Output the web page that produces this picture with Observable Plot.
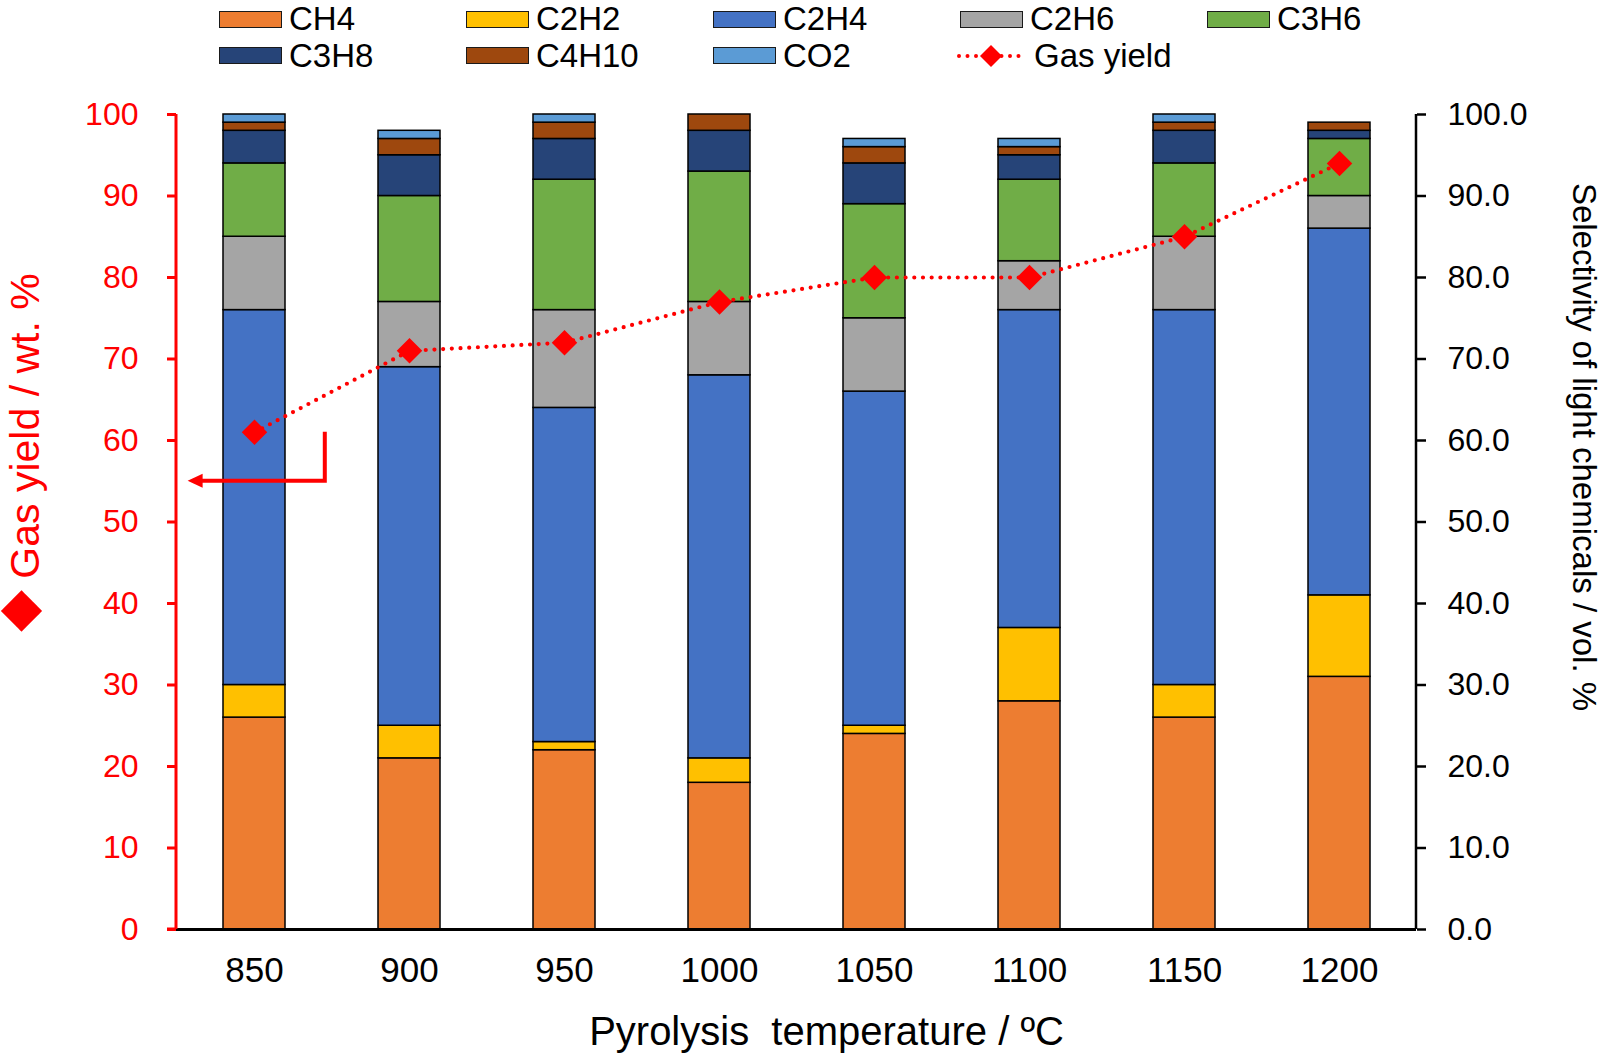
<!DOCTYPE html>
<html>
<head>
<meta charset="utf-8">
<script src="https://cdn.jsdelivr.net/npm/d3@7"></script>
<script src="https://cdn.jsdelivr.net/npm/@observablehq/plot@0.6"></script>
<style>
  body { margin: 0; background: #fff; font-family: "Liberation Sans", Arial, sans-serif; }
  #wrap { position: relative; width: 1602px; height: 1056px; overflow: hidden; }
  #chart { position: absolute; left: 0; top: 0; }
  #legend { position: absolute; left: 219px; top: 3px; display: grid;
            grid-template-columns: repeat(5, 247px); grid-template-rows: 32px 41px; z-index: 2; }
  .item { display: flex; align-items: center; font-size: 33px; line-height: 30px; color: #000; white-space: nowrap; }
  .sw { width: 61px; height: 15px; border: 1.5px solid #1a1a1a; margin-right: 7px; flex: none; }
  .item svg { margin-left: -4px; margin-right: 8px; flex: none; }
</style>
</head>
<body>
<div id="wrap">
  <div id="chart"></div>
  <div id="legend"></div>
</div>
<script>
// ---- data ----
const temperatures = ["850", "900", "950", "1000", "1050", "1100", "1150", "1200"];
const species = ["CH4", "C2H2", "C2H4", "C2H6", "C3H6", "C3H8", "C4H10", "CO2"];
const speciesColors = ["#ED7D31", "#FFC000", "#4472C4", "#A5A5A5", "#70AD47", "#264478", "#9E480E", "#5B9BD5"];

const CH4   = [26, 21, 22, 18, 24, 28, 26, 31];
const C2H2  = [4, 4, 1, 3, 1, 9, 4, 10];
const C2H4  = [46, 44, 41, 47, 41, 39, 46, 45];
const C2H6  = [9, 8, 12, 9, 9, 6, 9, 4];
const C3H6  = [9, 13, 16, 16, 14, 10, 9, 7];
const C3H8  = [4, 5, 5, 5, 5, 3, 4, 1];
const C4H10 = [1, 2, 2, 2, 2, 1, 1, 1];
const CO2   = [1, 1, 1, 0, 1, 1, 1, 0];
const gasYield = [61, 71, 72, 77, 80, 80, 85, 94];

const leftTicks = [0, 10, 20, 30, 40, 50, 60, 70, 80, 90, 100];
const rightTicks = [0, 10, 20, 30, 40, 50, 60, 70, 80, 90, 100];
const arrowLevels = [61, 55]; // annotation: from yield level down to axis level

const xTitle = "Pyrolysis  temperature / ºC";
const leftTitle = "Gas yield / wt. %";
const rightTitle = "Selectivity of light chemicals / vol. %";
const yieldLabel = "Gas yield";

// ---- tables ----
const seriesValues = [CH4, C2H2, C2H4, C2H6, C3H6, C3H8, C4H10, CO2];
const rows = [];
temperatures.forEach((t, i) => species.forEach((s, j) => {
  const v = seriesValues[j][i];
  if (v > 0) rows.push({ t, s, v });
}));
const yieldRows = temperatures.map((t, i) => ({ t, y: gasYield[i] }));

const RED = "#FF0000";
const FONT = '"Liberation Sans", Arial, sans-serif';

const plot = Plot.plot({
  width: 1602,
  height: 1056,
  marginTop: 114,
  marginBottom: 127,
  marginLeft: 176,
  marginRight: 186,
  style: { fontFamily: FONT, background: "white", color: "#000", overflow: "visible" },
  x: { type: "band", domain: temperatures, paddingInner: 0.6, paddingOuter: 0.3 },
  y: { domain: [0, 100] },
  color: { domain: species, range: speciesColors },
  marks: [
    Plot.barY(rows, Plot.stackY({ x: "t", y: "v", fill: "s", order: species, stroke: "#000", strokeWidth: 1.5 })),
    Plot.ruleY([0], { stroke: "#000", strokeWidth: 3 }),
    Plot.axisY({ anchor: "left", ticks: leftTicks, tickSize: 9, tickPadding: 29, fontSize: 32,
                 color: RED, strokeWidth: 3, label: null }),
    Plot.axisY({ anchor: "right", ticks: rightTicks, tickFormat: d3.format(".1f"), tickSize: 9,
                 tickPadding: 22, fontSize: 32, color: "#000", strokeWidth: 2.5, label: null }),
    Plot.axisX({ tickSize: 0, tickPadding: 28, fontSize: 35, label: null }),
    Plot.line(yieldRows, { x: "t", y: "y", stroke: RED, strokeWidth: 4.2,
                           strokeDasharray: "0 8.7", strokeLinecap: "round" }),
    Plot.dot(yieldRows, { x: "t", y: "y", symbol: "diamond2", r: 11.5, fill: RED, stroke: "none" }),
    Plot.text([xTitle], { frameAnchor: "bottom", textAnchor: "middle", lineAnchor: "middle",
                          dx: 30, dy: 103, fontSize: 40, fill: "#000" }),
    Plot.text([leftTitle], { frameAnchor: "left", textAnchor: "middle", lineAnchor: "middle",
                             rotate: -90, dx: -151, dy: -96, fontSize: 41, fill: RED }),
    Plot.text(["\u25C6"], { frameAnchor: "left", textAnchor: "middle", lineAnchor: "middle",
                           dx: -155, dy: 86, fontSize: 54, fill: RED, fontFamily: "DejaVu Sans" }),
    Plot.text([rightTitle], { frameAnchor: "right", textAnchor: "middle", lineAnchor: "middle",
                              rotate: 90, dx: 167, dy: -75, fontSize: 33, fill: "#000" })
  ]
});
document.getElementById("chart").appendChild(plot);

// axis lines and arrow annotation, positioned from the plot's scales
const svg = d3.select(plot);
const xs = plot.scale("x"), ys = plot.scale("y");
const [xL, xR] = xs.range;
const [yB, yT] = ys.range;
svg.append("line").attr("x1", xL).attr("x2", xL).attr("y1", yT).attr("y2", yB)
  .attr("stroke", RED).attr("stroke-width", 3);
svg.append("line").attr("x1", xR).attr("x2", xR).attr("y1", yT).attr("y2", yB)
  .attr("stroke", "#000").attr("stroke-width", 2.5);
svg.append("line").attr("x1", xL - 9).attr("x2", xL).attr("y1", yB).attr("y2", yB)
  .attr("stroke", RED).attr("stroke-width", 3);

const step = (xR - xL) / temperatures.length;
const vx = xL + 0.96 * step;
const tipX = xL + 0.075 * step;
const yTop = ys.apply(arrowLevels[0]);
const yBot = ys.apply(arrowLevels[1]);
svg.append("path")
  .attr("d", `M${vx},${yTop}V${yBot}H${tipX + 12}`)
  .attr("fill", "none").attr("stroke", RED).attr("stroke-width", 4);
svg.append("path")
  .attr("d", `M${tipX},${yBot}L${tipX + 15},${yBot - 7}L${tipX + 15},${yBot + 7}Z`)
  .attr("fill", RED);

// legend
const legend = document.getElementById("legend");
species.forEach((s, i) => {
  const it = document.createElement("div");
  it.className = "item";
  const sw = document.createElement("span");
  sw.className = "sw";
  sw.style.background = speciesColors[i];
  it.appendChild(sw);
  it.appendChild(document.createTextNode(s));
  legend.appendChild(it);
});
const gi = document.createElement("div");
gi.className = "item";
gi.innerHTML = `<svg width="70" height="30" viewBox="0 0 70 30">
  <line x1="3" y1="15" x2="67" y2="15" stroke="${RED}" stroke-width="4" stroke-dasharray="0 8.5" stroke-linecap="round"/>
  <path d="M35,4L46,15L35,26L24,15Z" fill="${RED}"/></svg>${yieldLabel}`;
legend.appendChild(gi);
</script>
</body>
</html>
